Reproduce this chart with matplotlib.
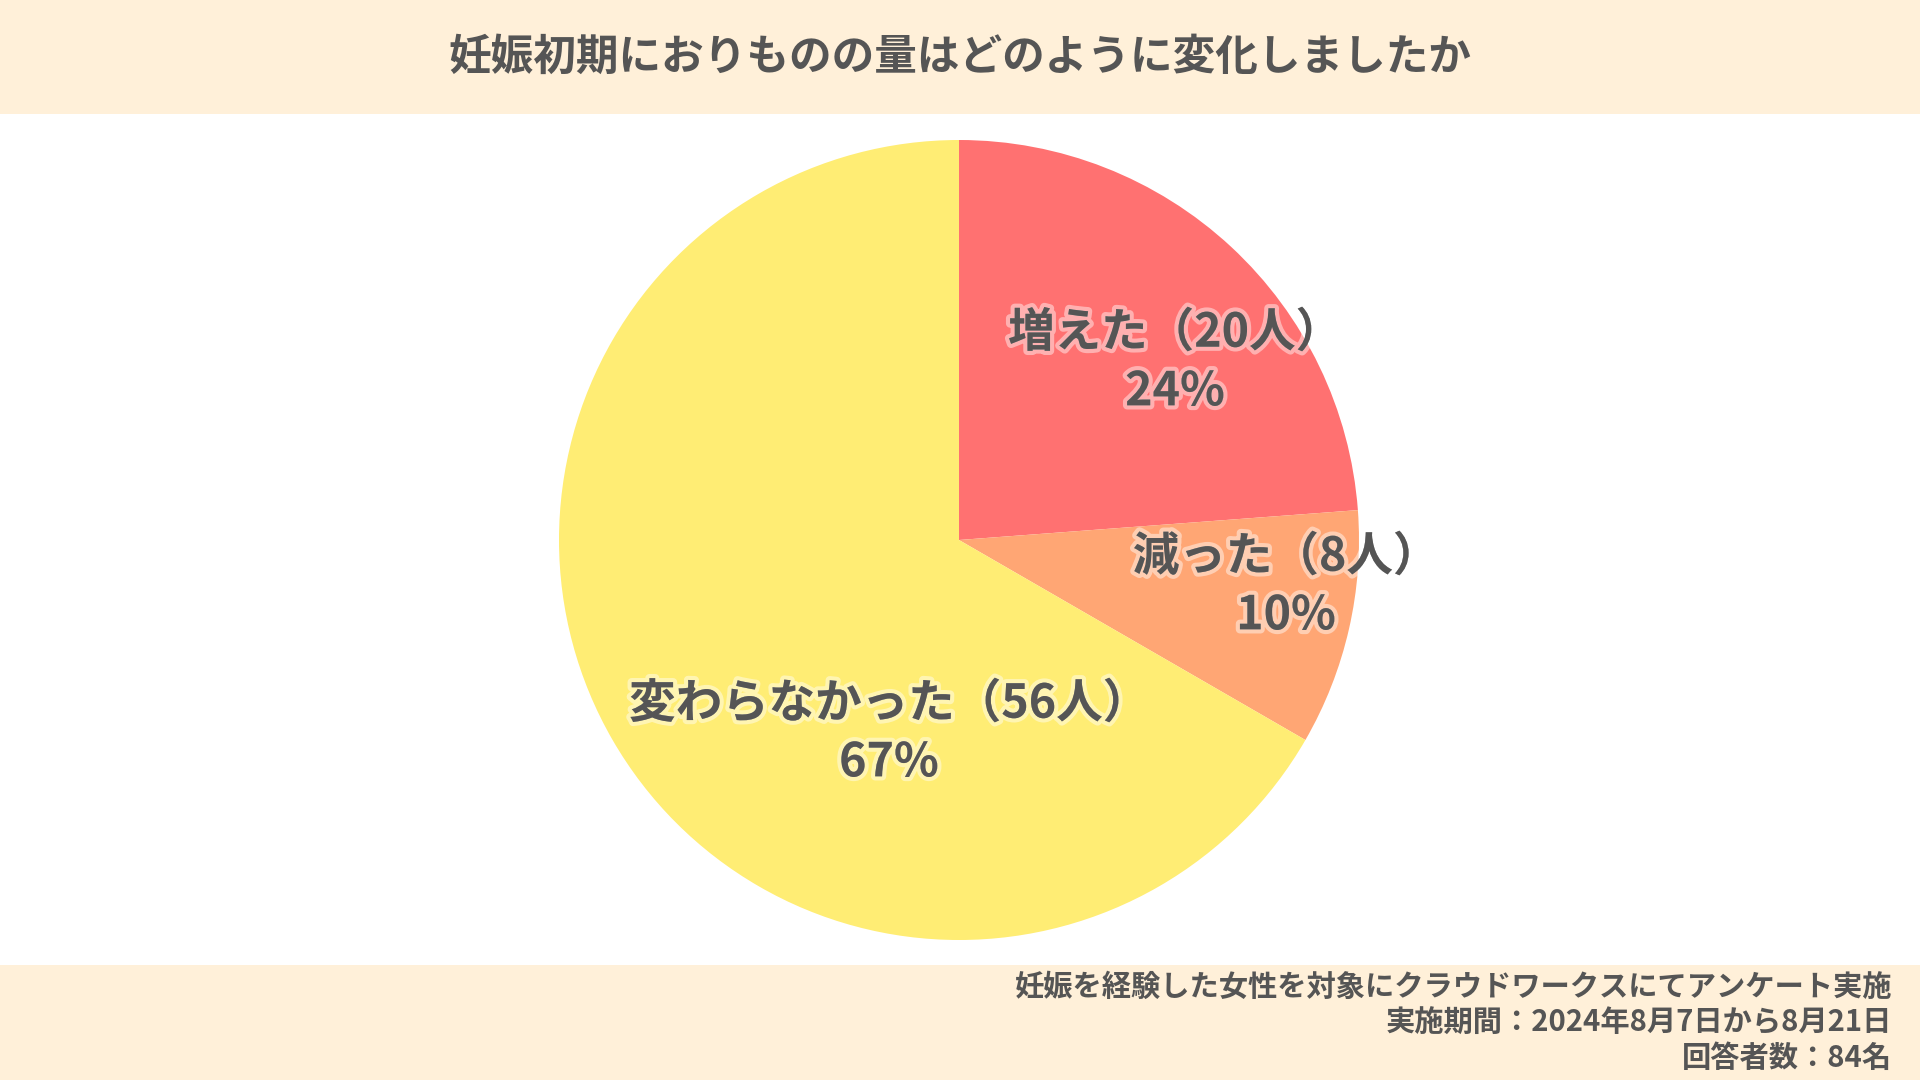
import matplotlib.pyplot as plt
import matplotlib.patheffects as pe
from matplotlib.patches import Rectangle

plt.rcParams['font.family'] = ['Noto Sans CJK JP', 'DejaVu Sans']

TITLE = "妊娠初期におりものの量はどのように変化しましたか"
categories = ["増えた", "減った", "変わらなかった"]
counts = [20, 8, 56]
percents = ["24%", "10%", "67%"]
colors = ["#FF7171", "#FFA674", "#FFED74"]
notes = [
    "妊娠を経験した女性を対象にクラウドワークスにてアンケート実施",
    "実施期間：2024年8月7日から8月21日",
    "回答者数：84名",
]

TEXT = "#555555"
BAND = "#FFF0D9"

fig = plt.figure(figsize=(19.2, 10.8), dpi=100)
fig.patch.set_facecolor("white")

# header / footer bands
fig.add_artist(Rectangle((0, 1 - 114 / 1080), 1, 114 / 1080, transform=fig.transFigure,
                         facecolor=BAND, edgecolor="none", zorder=0))
fig.add_artist(Rectangle((0, 0), 1, 115 / 1080, transform=fig.transFigure,
                         facecolor=BAND, edgecolor="none", zorder=0))

fig.text(0.5, 1 - 57 / 1080, TITLE, ha="center", va="center", fontsize=30.7,
         fontweight="bold", color=TEXT)

for i, line in enumerate(notes):
    fig.text(1892 / 1920, 1 - (987 + i * 35.5) / 1080, line, ha="right", va="center",
             fontsize=21.1, fontweight="bold", color=TEXT)

# pie: centre (959, 540), radius 400 px
r = 400
ax = fig.add_axes([(959 - r) / 1920, (540 - r) / 1080, 2 * r / 1920, 2 * r / 1080])
ax.pie(counts, colors=colors, startangle=90, counterclock=False, radius=1,
       wedgeprops=dict(linewidth=0))
ax.set_xlim(-1, 1)
ax.set_ylim(-1, 1)
ax.set_aspect("equal")
ax.axis("off")

# label positions (pixel offsets from centre / r)
label_pos = [(216, 178), (327, -46), (-70, -193)]
glow = [pe.withStroke(linewidth=6, foreground=(1, 1, 1, 0.45))]
for name, n, pct, (dx, dy) in zip(categories, counts, percents, label_pos):
    ax.text(dx / r, dy / r, f"{name}（{n}人）\n{pct}", ha="center", va="center",
            fontsize=33.5, fontweight="bold", color=TEXT, linespacing=1.28,
            path_effects=glow)

plt.savefig("out.png", dpi=100, facecolor=fig.get_facecolor())
